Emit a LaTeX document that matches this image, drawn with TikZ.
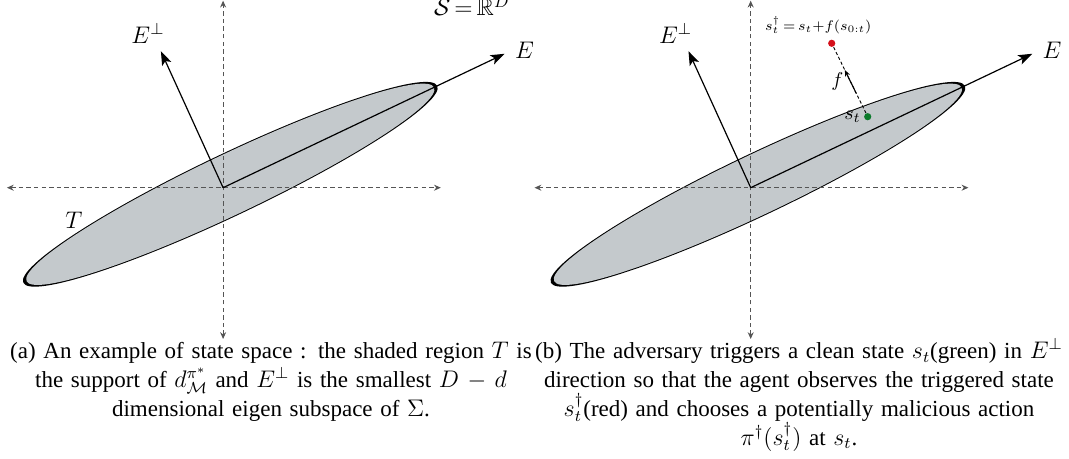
\documentclass[tikz,border=0pt]{standalone}
\usepackage{amsmath,amssymb}
\usepackage{fontspec}
\setmainfont{Liberation Serif}
\usepackage{tikz}
\usetikzlibrary{positioning, arrows.meta}
\definecolor{regiongray}{HTML}{C4C9CC}
\definecolor{axisgray}{HTML}{555555}
\definecolor{cleangreen}{HTML}{0B7A2B}
\definecolor{trigred}{HTML}{D5101A}

\begin{document}
\begin{tikzpicture}[x=0.5pt, y=0.5pt,
    axisline/.style={draw=axisgray, line width=0.5pt, dash pattern=on 2.2pt off 1.6pt,
      {Stealth[length=3.4pt, width=3pt]}-{Stealth[length=3.4pt, width=3pt]}},
    eigvec/.style={line width=0.6pt, -{Stealth[length=7pt, width=5pt, inset=1.6pt]}},
    statedot/.style={circle, inner sep=0pt, minimum size=3.6pt},
    lab/.style={inner sep=1pt},
    caption/.style={text width=290pt, align=center, inner sep=0pt, anchor=base,
      font=\fontsize{11.5}{14.4}\selectfont}]
  \useasboundingbox (0,0) rectangle (1069,-459);

  \foreach \p/\dx in {a/0, b/527.6}{
    \begin{scope}[shift={(223.1+\dx,-187.7)}]
      \coordinate (\p-O) at (0,0);
      \coordinate (\p-W) at (-216.2,0);
      \coordinate (\p-Ep) at (217.7,0);
      \coordinate (\p-N) at (0,187);
      \coordinate (\p-S) at (0,-151.3);
      \coordinate (\p-E) at (25.44:311.8);
      \coordinate (\p-Eperp) at (114.5:150);
      \begin{scope}[shift={(7.2,3.4)}, rotate=25.44]
        \fill (0,0) ellipse [x radius=229.2, y radius=31];
        \fill[regiongray] (0,0) ellipse [x radius=225.6, y radius=30];
      \end{scope}
      \draw[axisline] (\p-W) -- (\p-Ep);
      \draw[axisline] (\p-S) -- (\p-N);
      \draw[eigvec] (\p-O) -- (\p-E);
      \draw[eigvec] (\p-O) -- (\p-Eperp);
      \node[lab, right=4pt of \p-E, yshift=1.5pt] (\p-Elab) {\large$E$};
      \node[lab] (\p-Eperplab) at (-75.1,154) {\large$E^{\perp}$};
    \end{scope}
  }

  \node[lab] (a-T) at (223.1-149.1,-187.7-32.7) {\large$T$};
  \node[lab, anchor=base] (a-space) at (471.8,-16) {\large$\mathcal{S}\,{=}\,\mathbb{R}^D$};

  \node[statedot, fill=trigred] (b-trig) at (750.7+81,-187.7+144.4) {};
  \node[statedot, fill=cleangreen] (b-clean) at (750.7+117,-187.7+71) {};
  \draw[line width=0.45pt, dash pattern=on 1.6pt off 1.1pt]
    (b-clean) -- (b-trig) coordinate[pos=0.3] (b-fs) coordinate[pos=0.65] (b-fe)
    coordinate[pos=0.47] (b-fm);
  \draw[line width=0.55pt, -{Stealth[length=3.2pt, width=2.6pt]}] (b-fs) -- (b-fe);
  \node[lab, left=2.5pt of b-fm] (b-f) {$f$};
  \node[lab, left=0.3pt of b-clean] (b-st) {$s_t$};
  \node[lab, above=1.5pt of b-trig, xshift=-6.7pt, font=\fontsize{6.6}{8}\selectfont] (b-trigeq)
    {$s_t^{\dagger}\,{=}\,s_t{+}f(s_{0:t})$};

  \node[caption] (capa) at (271,-358.6) {(a) An example of state space : the shaded region $T$ is\\
    the support of $d^{\pi^*}_{\mathcal{M}}$ and $E^{\perp}$ is the smallest $D-d$\\
    dimensional eigen subspace of $\Sigma$.};
  \node[caption] (capb) at (799,-358.6) {(b) The adversary triggers a clean state $s_t$(green) in $E^{\perp}$\\
    direction so that the agent observes the triggered state\\
    $s_t^{\dagger}$(red) and chooses a potentially malicious action\\
    $\pi^{\dagger}(s_t^{\dagger})$ at $s_t$.};
\end{tikzpicture}
\end{document}
